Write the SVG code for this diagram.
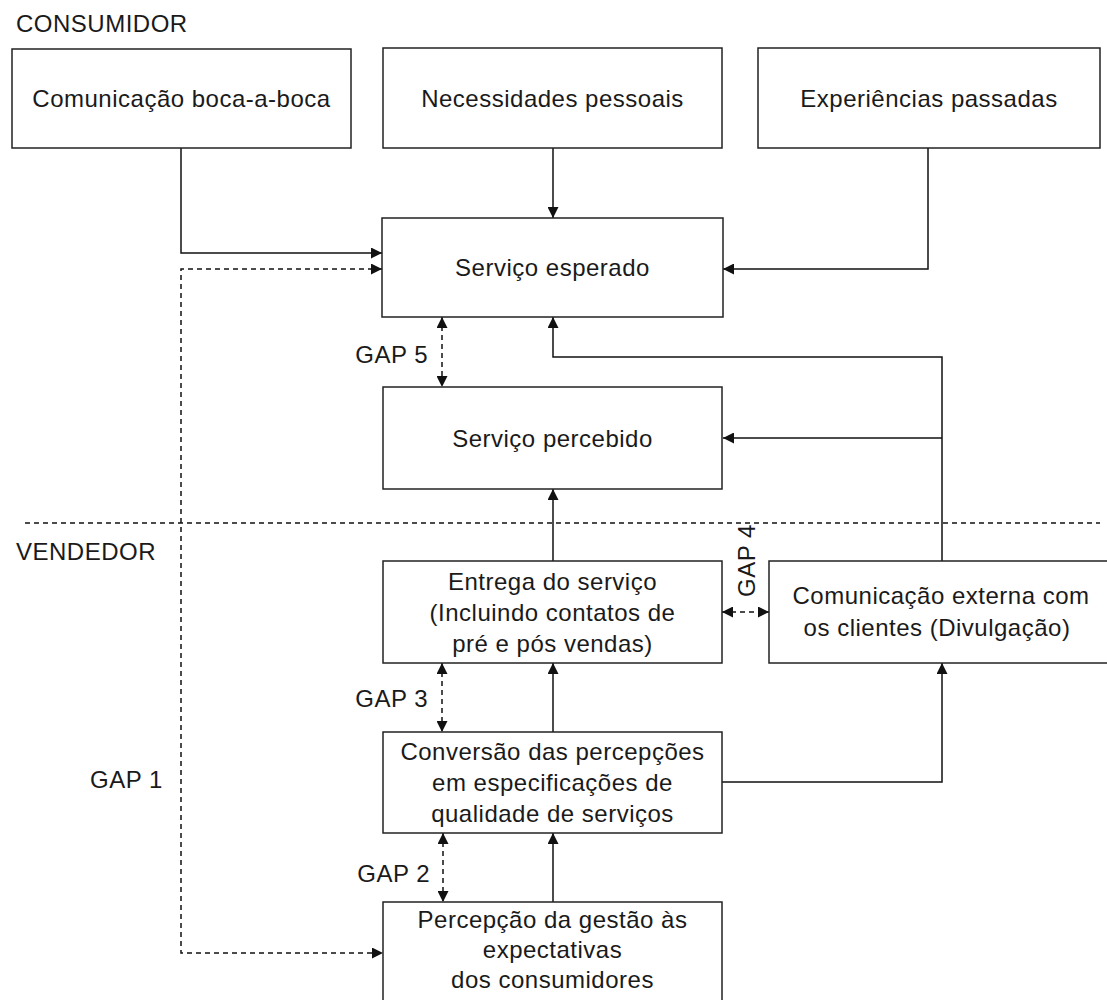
<svg xmlns="http://www.w3.org/2000/svg" width="1107" height="1000" viewBox="0 0 1107 1000">
<style>
.box{fill:#fff;stroke:#222;stroke-width:1.5}
.t{font-family:"Liberation Sans",Arial,sans-serif;font-size:24px;letter-spacing:0.5px;fill:#1a1a1a}
.c{text-anchor:middle}
.e{text-anchor:end}
.ln{fill:none;stroke:#111;stroke-width:1.5}
.ds{fill:none;stroke:#111;stroke-width:1.5;stroke-dasharray:5,4}
</style>
<defs>
<marker id="ah" markerUnits="userSpaceOnUse" markerWidth="11" markerHeight="11" refX="11" refY="5.5" orient="auto-start-reverse">
<path d="M0,0 L11,5.5 L0,11 z" fill="#111"/>
</marker>
</defs>
<rect width="1107" height="1000" fill="#fff"/>
<text class="t" x="16" y="32">CONSUMIDOR</text>
<text class="t" x="16" y="560">VENDEDOR</text>
<line class="ds" x1="25" y1="523" x2="1100" y2="523"/>
<g id="connectors">
<path class="ln" d="M181,148 V253 H382" marker-end="url(#ah)"/>
<path class="ln" d="M553,148 V218" marker-end="url(#ah)"/>
<path class="ln" d="M928,148 V269 H723" marker-end="url(#ah)"/>
<path class="ln" d="M942,561 V357 H553 V317" marker-end="url(#ah)"/>
<path class="ln" d="M942,438 H723" marker-end="url(#ah)"/>
<path class="ln" d="M553,561 V489" marker-end="url(#ah)"/>
<path class="ln" d="M553,732 V663" marker-end="url(#ah)"/>
<path class="ln" d="M722,782 H942 V663" marker-end="url(#ah)"/>
<path class="ln" d="M553,902 V833" marker-end="url(#ah)"/>
<path class="ds" d="M382,269 H181 V953 H383" marker-start="url(#ah)" marker-end="url(#ah)"/>
<path class="ds" d="M442,317 V387" marker-start="url(#ah)" marker-end="url(#ah)"/>
<path class="ds" d="M442,663 V732" marker-start="url(#ah)" marker-end="url(#ah)"/>
<path class="ds" d="M443,833 V902" marker-start="url(#ah)" marker-end="url(#ah)"/>
<path class="ds" d="M722,612 H769" marker-start="url(#ah)" marker-end="url(#ah)"/>
<text class="t e" x="428" y="363">GAP 5</text>
<text class="t e" x="428" y="707">GAP 3</text>
<text class="t e" x="430" y="882">GAP 2</text>
<text class="t" x="90" y="788">GAP 1</text>
<text class="t" transform="translate(755,597) rotate(-90)">GAP 4</text>
</g>
<g id="n1"><rect class="box" x="12" y="49" width="339" height="99"/><text class="t c" x="181.5" y="107">Comunicação boca-a-boca</text></g>
<g id="n2"><rect class="box" x="383" y="48" width="339" height="100"/><text class="t c" x="552.5" y="107">Necessidades pessoais</text></g>
<g id="n3"><rect class="box" x="758" y="48" width="342" height="100"/><text class="t c" x="929" y="107">Experiências passadas</text></g>
<g id="n4"><rect class="box" x="382" y="218" width="341" height="99"/><text class="t c" x="552.5" y="276">Serviço esperado</text></g>
<g id="n5"><rect class="box" x="383" y="387" width="339" height="102"/><text class="t c" x="552.5" y="447">Serviço percebido</text></g>
<g id="n6"><rect class="box" x="383" y="561" width="339" height="102"/>
<text class="t c" x="552.5" y="590">Entrega do serviço</text>
<text class="t c" x="552.5" y="621">(Incluindo contatos de</text>
<text class="t c" x="552.5" y="652">pré e pós vendas)</text></g>
<g id="n7"><rect class="box" x="769" y="561" width="350" height="102"/>
<text class="t c" x="941" y="604">Comunicação externa com</text>
<text class="t c" x="937" y="636">os clientes (Divulgação)</text></g>
<g id="n8"><rect class="box" x="383" y="732" width="339" height="101"/>
<text class="t c" x="552.5" y="760">Conversão das percepções</text>
<text class="t c" x="552.5" y="791">em especificações de</text>
<text class="t c" x="552.5" y="822">qualidade de serviços</text></g>
<g id="n9"><rect class="box" x="383" y="902" width="339" height="120"/>
<text class="t c" x="552.5" y="928">Percepção da gestão às</text>
<text class="t c" x="552.5" y="958">expectativas</text>
<text class="t c" x="552.5" y="988">dos consumidores</text></g>
</svg>
